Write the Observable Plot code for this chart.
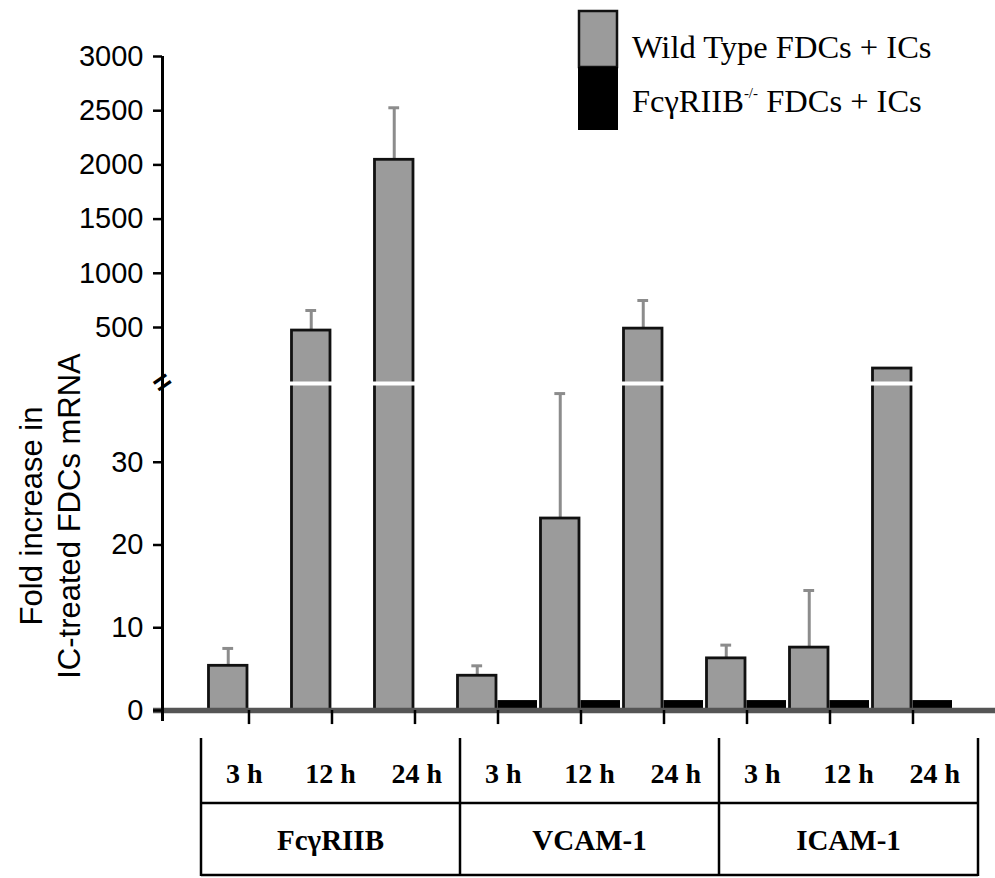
<!DOCTYPE html>
<html>
<head>
<meta charset="utf-8">
<script src="https://cdn.jsdelivr.net/npm/d3@7"></script>
<script src="https://cdn.jsdelivr.net/npm/@observablehq/plot@0.6"></script>
<style>
  html, body { margin: 0; padding: 0; background: #fff; }
  #wrap { position: relative; width: 995px; height: 878px; overflow: hidden; background: #fff; }
  #wrap > svg { position: absolute; left: 0; top: 0; }
</style>
</head>
<body>
<div id="wrap"></div>
<script>
// ---------- data ----------
const genes = ["FcγRIIB", "VCAM-1", "ICAM-1"];
const times = ["3 h", "12 h", "24 h"];
const wtName = "Wild Type FDCs + ICs";
const koNameParts = ["FcγRIIB", "-/-", " FDCs + ICs"];
// wild-type FDCs + ICs (gray), one value per gene × time
const wtValues = [5.4, 473, 2047, 4.2, 23.2, 490, 6.3, 7.6, 137];
// top of the (upward only) error bar
const wtErrTop = [7.5, 657, 2527, 5.4, 38.3, 749, 7.9, 14.5, null];
// FcγRIIB-/- FDCs + ICs (black); none for FcγRIIB
const koValues = [null, null, null, 1.2, 1.2, 1.2, 1.2, 1.2, 1.2];
const yTicks = [0, 10, 20, 30, 500, 1000, 1500, 2000, 2500, 3000];
const breakValue = 40;
const yLabelLines = ["Fold increase in", "IC-treated FDCs mRNA"];

// ---------- derived tables ----------
const slots = genes.flatMap((g, gi) => times.map((t, ti) => ({gene: g, time: t, i: gi * times.length + ti})));
const wtBars = slots.map(s => ({...s, x1: s.i, x2: s.i + 0.5, value: wtValues[s.i], err: wtErrTop[s.i]}));
const koBars = slots.filter(s => koValues[s.i] != null)
  .map(s => ({...s, x1: s.i + 0.5, x2: s.i + 1, value: koValues[s.i]}));
const errBars = wtBars.filter(d => d.err != null);
const tallBars = wtBars.filter(d => d.value > breakValue);

const xDomain = [-0.542, 9.494];
const gray = "#9b9b9b";

const chart = Plot.plot({
  width: 995,
  height: 735,
  marginLeft: 162,
  marginRight: 0,
  marginTop: 56,
  marginBottom: 14,
  style: {fontFamily: "'Liberation Sans', Arial, sans-serif", fontSize: "28px", background: "transparent", color: "#000"},
  x: {type: "linear", domain: xDomain, axis: null},
  // broken axis: 0–40 in the lower panel, 40–3000 compressed in the upper panel
  y: {type: "linear", domain: [0, breakValue, 500, 3000], range: [710, 379, 327, 56], axis: null},
  marks: [
    // error bars
    Plot.ruleX(errBars, {x: d => d.i + 0.25, y1: "value", y2: "err", stroke: "#8c8c8c", strokeWidth: 3}),
    Plot.ruleY(errBars, {y: "err", x1: d => d.i + 0.25 - 0.065, x2: d => d.i + 0.25 + 0.065, stroke: "#8c8c8c", strokeWidth: 3}),
    // bars
    Plot.rectY(wtBars, {x1: "x1", x2: "x2", y1: d => 0, y2: "value", fill: gray, stroke: "#111", strokeWidth: 2.8, insetLeft: 1.5, insetRight: 1.5}),
    Plot.rectY(koBars, {x1: "x1", x2: "x2", y1: d => 0, y2: "value", fill: "#000", insetRight: 2}),
    // break gap through tall bars
    Plot.ruleY(tallBars, {y: d => breakValue, x1: "x1", x2: "x2", stroke: "#fff", strokeWidth: 4, dy: 4, insetLeft: -1, insetRight: -1}),
    // baseline
    Plot.ruleY([0], {stroke: "#555", strokeWidth: 5.5, insetLeft: -9}),
    // x ticks below baseline
    Plot.ruleX(slots, {x: d => d.i + 0.5, y1: d => 0, y2: d => -1.7, stroke: "#000", strokeWidth: 2.5}),
    // y axis line
    Plot.ruleX([xDomain[0]], {stroke: "#000", strokeWidth: 3}),
    Plot.axisY(yTicks, {tickSize: 9, tickPadding: 10, strokeWidth: 2.5, fontSize: 29, tickFormat: d => String(d), label: null}),
    // axis break marks
    Plot.text([breakValue], {y: d => d, frameAnchor: "left", textAnchor: "middle", text: () => "=", rotate: -35, fontSize: 30, fontWeight: "bold", dy: 3}),
    // y label (two lines)
    Plot.text([yLabelLines.join("\n")], {frameAnchor: "left", textAnchor: "middle", lineAnchor: "middle", text: d => d, rotate: -90, fontSize: 31, lineHeight: 1.22, dx: -114, dy: 127})
  ]
});
document.getElementById("wrap").appendChild(chart);

// ---------- overlay: legend and category table ----------
const ov = d3.select("#wrap").append("svg")
  .attr("width", 995).attr("height", 878)
  .style("font-family", "'Liberation Serif', 'Times New Roman', serif");

// legend
ov.append("rect").attr("x", 579).attr("y", 11).attr("width", 38).attr("height", 56)
  .attr("fill", gray).attr("stroke", "#111").attr("stroke-width", 2.5);
ov.append("rect").attr("x", 578).attr("y", 67).attr("width", 40).attr("height", 63).attr("fill", "#000");
ov.append("text").attr("x", 632).attr("y", 58).attr("font-size", 32.5).text(wtName);
const kt = ov.append("text").attr("x", 632).attr("y", 112).attr("font-size", 32.5);
kt.append("tspan").text(koNameParts[0]);
kt.append("tspan").attr("font-size", 15).attr("dy", -14).text(koNameParts[1]);
kt.append("tspan").attr("dy", 14).text(koNameParts[2]);

// table
const tLeft = 201, tRight = 978, tTop = 738, tMid = 803, tBottom = 875;
const cellW = (tRight - tLeft) / genes.length;
const lines = ov.append("g").attr("stroke", "#000").attr("stroke-width", 2.5);
for (let k = 0; k <= genes.length; k++) {
  const x = tLeft + k * cellW;
  lines.append("line").attr("x1", x).attr("x2", x).attr("y1", tTop).attr("y2", tBottom + 1);
}
lines.append("line").attr("x1", tLeft).attr("x2", tRight).attr("y1", tMid).attr("y2", tMid);
lines.append("line").attr("x1", tLeft).attr("x2", tRight).attr("y1", tBottom).attr("y2", tBottom);

slots.forEach(s => {
  const gi = genes.indexOf(s.gene), ti = times.indexOf(s.time);
  ov.append("text")
    .attr("x", tLeft + gi * cellW + (ti + 0.5) * cellW / times.length)
    .attr("y", 783).attr("text-anchor", "middle")
    .attr("font-size", 28).attr("font-weight", "bold")
    .text(s.time);
});
genes.forEach((g, gi) => {
  ov.append("text")
    .attr("x", tLeft + (gi + 0.5) * cellW).attr("y", 850)
    .attr("text-anchor", "middle").attr("font-size", 29).attr("font-weight", "bold")
    .text(g);
});
</script>
</body>
</html>
